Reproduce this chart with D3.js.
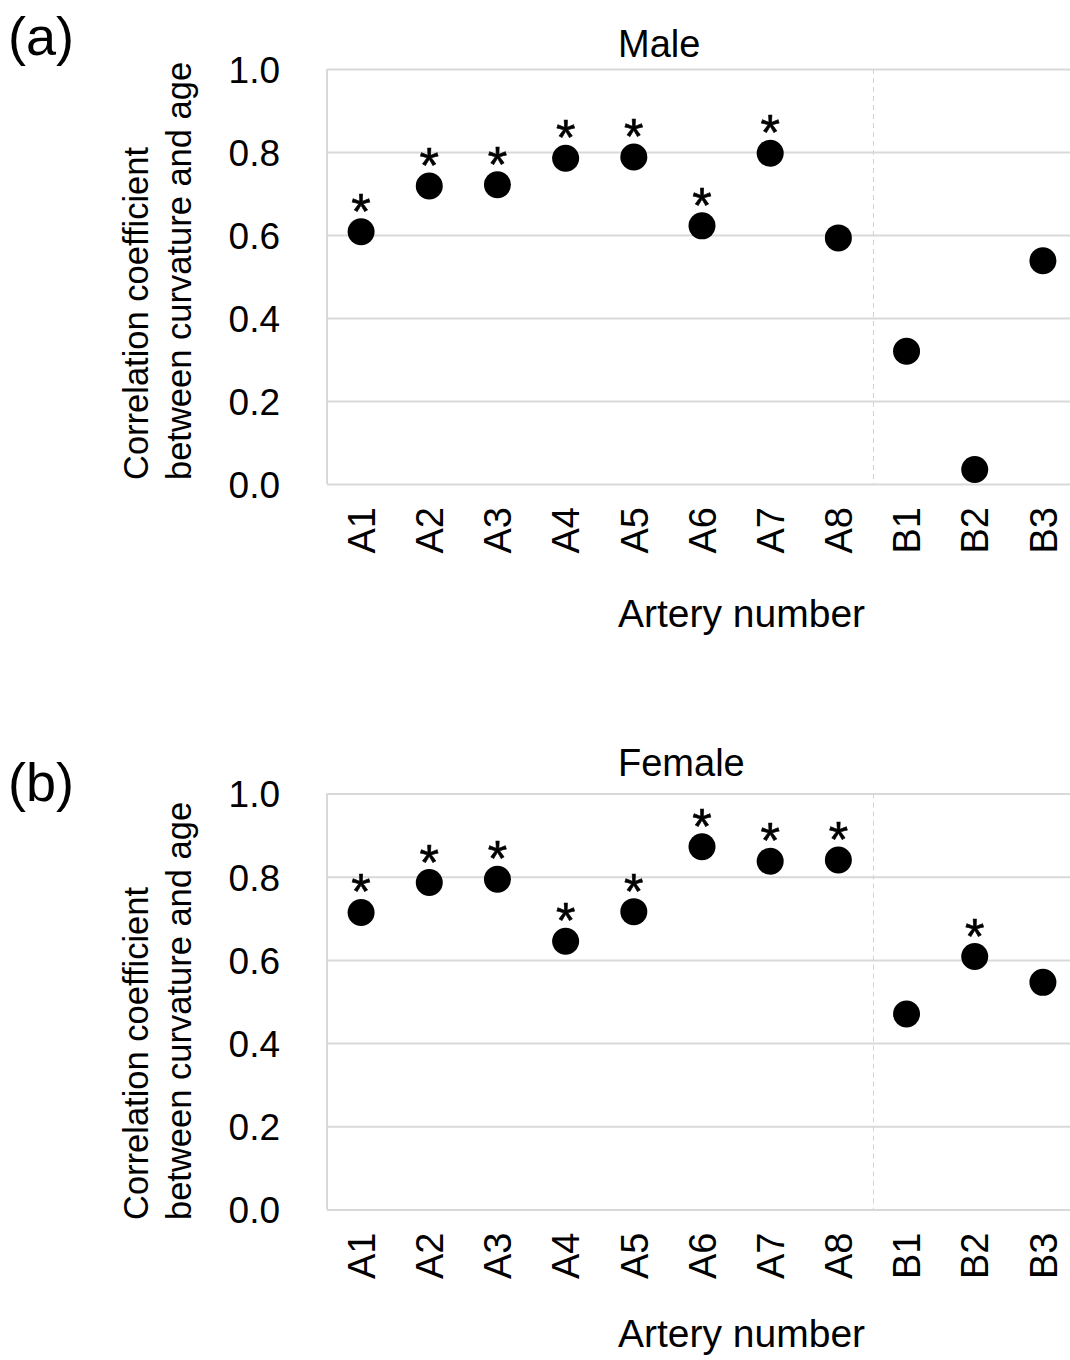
<!DOCTYPE html>
<html>
<head>
<meta charset="utf-8">
<script src="https://cdn.jsdelivr.net/npm/d3@7"></script>
<style>
  body { margin: 0; background: #fff; }
  svg { display: block; font-family: "Liberation Sans", Arial, sans-serif; }
</style>
</head>
<body>
<script>
// artery labels along the x axis
var categories = ["A1", "A2", "A3", "A4", "A5", "A6", "A7", "A8", "B1", "B2", "B3"];

// correlation coefficient between curvature and age
var maleValues   = [0.608, 0.718, 0.721, 0.785, 0.788, 0.622, 0.797, 0.593, 0.320, 0.035, 0.538];
var femaleValues = [0.714, 0.786, 0.794, 0.645, 0.716, 0.872, 0.837, 0.840, 0.470, 0.608, 0.546];

// 1 = significant (asterisk shown)
var maleSig   = [1, 1, 1, 1, 1, 1, 1, 0, 0, 0, 0];
var femaleSig = [1, 1, 1, 1, 1, 1, 1, 1, 0, 1, 0];

var yTicks = [0, 0.2, 0.4, 0.6, 0.8, 1.0];

var width = 1070, height = 1360;

var svg = d3.select("body").append("svg")
    .attr("width", width)
    .attr("height", height);

var x = d3.scaleBand()
    .domain(categories)
    .range([327, 1077])
    .padding(0);

var grid = "#d9d9d9";

function drawPanel(p) {
  var y = d3.scaleLinear().domain([0, 1]).range([p.bottom, p.top]);
  var g = svg.append("g");

  var rows = categories.map(function(c, i) {
    return { cat: c, value: p.values[i], sig: p.sig[i] };
  });

  // gridlines + y tick labels
  var yAxis = d3.axisLeft(y)
      .tickValues(yTicks)
      .tickFormat(d3.format(".1f"))
      .tickSize(-(x.range()[1] - x.range()[0]))
      .tickPadding(47);

  var ya = g.append("g")
      .attr("transform", "translate(" + x.range()[0] + ",0)")
      .call(yAxis);
  ya.select(".domain").remove();
  ya.selectAll("line").attr("stroke", grid).attr("stroke-width", 2);
  ya.selectAll("text")
      .attr("dy", "0.36em")
      .style("font-size", "37px")
      .attr("fill", "#000");

  // left border of plot area
  g.append("line")
      .attr("x1", x.range()[0]).attr("x2", x.range()[0])
      .attr("y1", p.top).attr("y2", p.bottom)
      .attr("stroke", grid).attr("stroke-width", 2);

  // dashed separator between A and B groups
  g.append("line")
      .attr("x1", x("B1") + 1).attr("x2", x("B1") + 1)
      .attr("y1", p.top).attr("y2", p.bottom)
      .attr("stroke", "#d4d4d4").attr("stroke-width", 1)
      .attr("stroke-dasharray", "5,4");

  // x axis with rotated labels
  var xa = g.append("g")
      .attr("transform", "translate(0," + p.bottom + ")")
      .call(d3.axisBottom(x).tickSize(0));
  xa.select(".domain").remove();
  xa.selectAll("text")
      .attr("transform", "rotate(-90)")
      .attr("x", -23)
      .attr("y", 0)
      .attr("dy", "0.36em")
      .style("text-anchor", "end")
      .style("font-size", "38px")
      .attr("fill", "#000");

  // points
  g.selectAll("circle.pt")
      .data(rows)
    .enter().append("circle")
      .attr("class", "pt")
      .attr("cx", function(d) { return x(d.cat) + x.bandwidth() / 2; })
      .attr("cy", function(d) { return y(d.value); })
      .attr("r", 13.5)
      .attr("fill", "#000");

  // significance asterisks
  g.selectAll("text.sig")
      .data(rows.filter(function(d) { return d.sig; }))
    .enter().append("text")
      .attr("class", "sig")
      .attr("x", function(d) { return x(d.cat) + x.bandwidth() / 2; })
      .attr("y", function(d) { return y(d.value) - 3; })
      .attr("text-anchor", "middle")
      .attr("stroke", "#000")
      .attr("stroke-width", 0.6)
      .style("font-size", "50px")
      .text("*");

  // panel title
  g.append("text")
      .attr("x", 618).attr("y", p.titleY)
      .style("font-size", "38px")
      .text(p.title);

  // panel letter
  g.append("text")
      .attr("x", 8).attr("y", p.letterY)
      .style("font-size", "54px")
      .text(p.letter);

  // y axis title (two lines)
  var yl = g.append("text")
      .attr("transform", "translate(0," + p.ylabelY + ") rotate(-90)")
      .style("font-size", "34.5px")
      .attr("text-anchor", "start");
  yl.append("tspan").attr("x", 0).attr("y", 148).text("Correlation coefficient");
  yl.append("tspan").attr("x", 0).attr("y", 191).text("between curvature and age");

  // x axis title
  g.append("text")
      .attr("x", 618).attr("y", p.xtitleY)
      .style("font-size", "39px")
      .text("Artery number");
}

drawPanel({
  values: maleValues, sig: maleSig, title: "Male", letter: "(a)",
  top: 69, bottom: 484, titleY: 57, letterY: 55, ylabelY: 480, xtitleY: 627
});

drawPanel({
  values: femaleValues, sig: femaleSig, title: "Female", letter: "(b)",
  top: 793.5, bottom: 1209.5, titleY: 776, letterY: 801, ylabelY: 1220, xtitleY: 1347
});
</script>
</body>
</html>
